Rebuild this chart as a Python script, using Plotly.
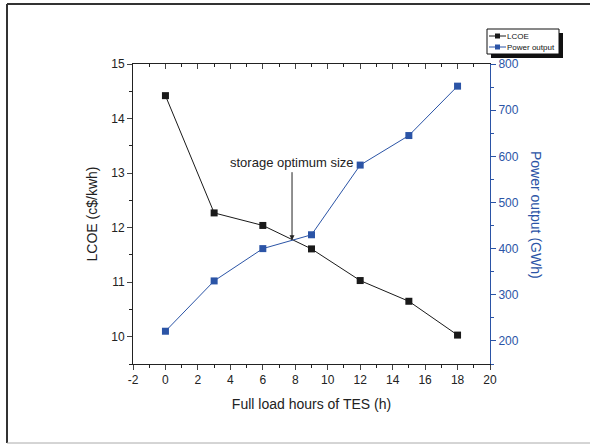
import plotly.graph_objects as go

hours = [0, 3, 6, 9, 12, 15, 18]
lcoe = [14.42, 12.27, 12.04, 11.61, 11.03, 10.65, 10.03]
power = [221, 330, 400, 430, 581, 645, 752]
series_names = ["LCOE", "Power output"]
x_ticks = [-2, 0, 2, 4, 6, 8, 10, 12, 14, 16, 18, 20]
y_ticks = [10, 11, 12, 13, 14, 15]
y2_ticks = [200, 300, 400, 500, 600, 700, 800]

BLUE = "#2B54A6"
DARK = "#1a1a1a"
FONT = "Liberation Sans, Arial, sans-serif"

fig = go.Figure()
fig.add_trace(go.Scatter(x=hours, y=lcoe, mode="lines+markers", name=series_names[0],
                         line=dict(color=DARK, width=1),
                         marker=dict(symbol="square", size=7, color=DARK)))
fig.add_trace(go.Scatter(x=hours, y=power, mode="lines+markers", name=series_names[1],
                         yaxis="y2",
                         line=dict(color=BLUE, width=1),
                         marker=dict(symbol="square", size=7, color=BLUE)))
fig.add_trace(go.Scatter(x=[None], y=[None], xaxis="x2", showlegend=False))

L, R, T, B = 133, 490, 64, 364
W, H = 590, 444
pw, ph = R - L, B - T

def px(x):
    return (x - L) / pw

def py(y):
    return (B - y) / ph

fig.update_layout(
    width=W, height=H,
    margin=dict(l=L, r=W - R, t=T, b=H - B),
    paper_bgcolor="white", plot_bgcolor="white",
    font=dict(family=FONT, size=12, color="#222"),
    showlegend=False,
    xaxis=dict(range=[-2, 20], tickvals=x_ticks, ticktext=[str(v) for v in x_ticks],
               ticks="outside", ticklen=5,
               showline=True, linecolor="#222", linewidth=1, showgrid=False,
               zeroline=False, tickfont=dict(size=12),
               minor=dict(dtick=1, ticks="outside", ticklen=3, tickcolor="#222"),
               title=dict(text="Full load hours of TES (h)", font=dict(size=14), standoff=12)),
    xaxis2=dict(range=[-2, 20], dtick=2, tick0=0, overlaying="x", side="top", ticks="inside",
                ticklen=5, showticklabels=False, showline=True, linecolor="#222",
                showgrid=False, zeroline=False,
                minor=dict(dtick=1, ticks="inside", ticklen=3, tickcolor="#222")),
    yaxis=dict(range=[9.5, 15], tickvals=y_ticks, ticks="outside", ticklen=5,
               showline=True, linecolor="#222", linewidth=1, showgrid=False,
               zeroline=False, tickfont=dict(size=12),
               minor=dict(dtick=0.5, ticks="outside", ticklen=3, tickcolor="#222"),
               title=dict(text="LCOE (c$/kwh)", font=dict(size=14), standoff=10)),
    yaxis2=dict(range=[150, 800], tickvals=y2_ticks, overlaying="y", side="right",
                ticks="outside", ticklen=5, tickcolor=BLUE,
                showline=True, linecolor=BLUE, linewidth=1, showgrid=False,
                zeroline=False, tickfont=dict(size=12, color=BLUE),
                minor=dict(dtick=50, ticks="outside", ticklen=3, tickcolor=BLUE)),
)

fig.add_annotation(text="Power output (GWh)", textangle=90, xref="paper", yref="paper",
                   x=px(536), y=py(215), xanchor="center", yanchor="middle", showarrow=False,
                   font=dict(size=14, color=BLUE))

fig.add_annotation(text="storage optimum size", x=7.8, y=11.77, xref="x", yref="y",
                   ax=0, ay=-68, axref="pixel", ayref="pixel",
                   showarrow=True, arrowhead=2, arrowsize=1, arrowwidth=1,
                   arrowcolor="#222", font=dict(size=13, color="#222"),
                   yanchor="bottom", standoff=0)

# manual legend box with shadow
fig.add_shape(type="rect", xref="paper", yref="paper",
              x0=px(491), x1=px(563), y0=py(58), y1=py(33),
              fillcolor="#111", line=dict(width=0), layer="above")
fig.add_shape(type="rect", xref="paper", yref="paper",
              x0=px(487), x1=px(559), y0=py(54), y1=py(29),
              fillcolor="white", line=dict(color="#111", width=1), layer="above")
for i, (name, col) in enumerate(zip(series_names, [DARK, BLUE])):
    yc = 36 + i * 11
    fig.add_shape(type="line", xref="paper", yref="paper",
                  x0=px(489), x1=px(506), y0=py(yc), y1=py(yc),
                  line=dict(color=col, width=1), layer="above")
    fig.add_shape(type="rect", xref="paper", yref="paper",
                  x0=px(495), x1=px(500), y0=py(yc + 2.5), y1=py(yc - 2.5),
                  fillcolor=col, line=dict(width=0), layer="above")
    fig.add_annotation(text=name, xref="paper", yref="paper", x=px(506), y=py(yc),
                       xanchor="left", yanchor="middle", showarrow=False,
                       font=dict(size=8, color="#111"), borderpad=0)

# outer frame
fig.add_shape(type="line", xref="paper", yref="paper", x0=px(7), x1=px(7), y0=py(443), y1=py(4),
              line=dict(color="#333", width=2))
fig.add_shape(type="line", xref="paper", yref="paper", x0=px(7), x1=px(595), y0=py(4), y1=py(4),
              line=dict(color="#333", width=2))
fig.add_shape(type="line", xref="paper", yref="paper", x0=px(7), x1=px(595), y0=py(443), y1=py(443),
              line=dict(color="#aaa", width=1))

fig.write_html("out.html")
